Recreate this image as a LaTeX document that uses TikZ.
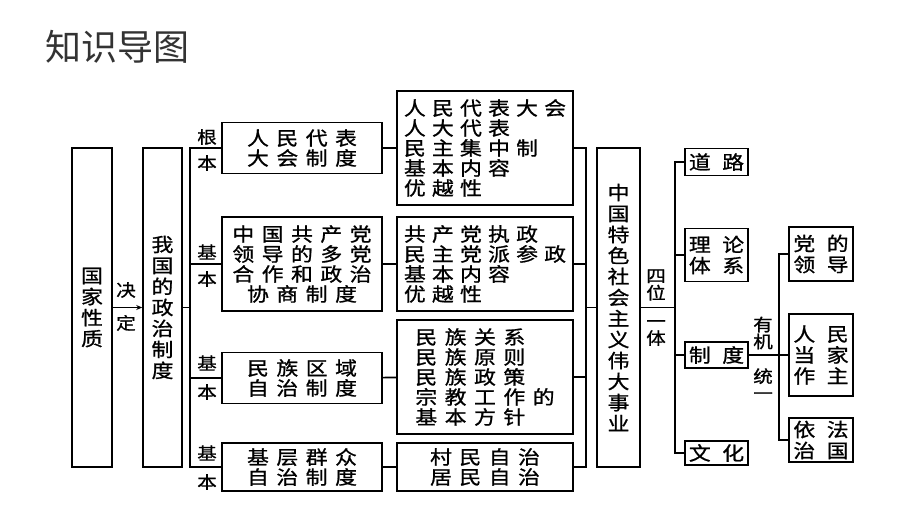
\documentclass[tikz,border=0pt]{standalone}
\usepackage{fontspec}
\usetikzlibrary{arrows.meta}
\newfontfamily\cjk[FakeStretch=1.15,FakeBold=1]{Noto Sans CJK SC}
\newfontfamily\cjktitle{Noto Sans CJK SC}
\definecolor{titlegray}{HTML}{333333}
\newlength\cjkgap
\newXeTeXintercharclass\hanclass
\count255="4E00
\loop
  \XeTeXcharclass\count255=\hanclass
  \ifnum\count255<"9FFF \advance\count255 by 1 \repeat
\XeTeXinterchartokenstate=1
\XeTeXinterchartoks\hanclass\hanclass={\hskip\cjkgap\relax}
\begin{document}
\begin{tikzpicture}[x=1pt,y=-1pt,line width=1.6pt,
    box/.style={draw,inner sep=0pt,align=center},
    hbox/.style={box,font=\cjk\fontsize{19}{20}\selectfont\setlength\cjkgap{7.5pt}},
    tbox/.style={box,align=left,font=\cjk\fontsize{19}{20}\selectfont\setlength\cjkgap{6.2pt}},
    sbox/.style={box,font=\cjk\fontsize{19}{21}\selectfont\setlength\cjkgap{11.5pt}},
    vbox/.style={box,font=\cjk\fontsize{19}{21}\selectfont},
    lab/.style={inner sep=0pt,align=center,font=\cjk\fontsize{17}{17}\selectfont}]
\useasboundingbox (0,0) rectangle (920,518);

\node[anchor=west,inner sep=0pt,text=titlegray,font=\cjktitle\fontsize{36}{40}\selectfont\setlength\cjkgap{0pt}] (title) at (45,47) {知识导图};

\node[vbox,minimum width=40,minimum height=319] (xingzhi) at (92,307.5) {国\\家\\性\\质};
\node[vbox,minimum width=39,minimum height=319] (zhengzhi) at (162.5,307.5) {我\\国\\的\\政\\治\\制\\度};
\node[lab] (jue) at (126,290) {决};
\node[lab] (ding) at (126,323) {定};
\draw[line width=1.2pt,-{Stealth[length=6pt,width=5pt]}] (xingzhi) -- (zhengzhi);

\begin{scope}[every node/.style={hbox,minimum width=160}]
    \node[minimum height=51] (rmdb) at (302,148) {人民代表\\大会制度};
    \node[minimum height=94] (dpz) at (302,264) {中国共产党\\领导的多党\\合作和政治\\协商制度};
    \node[minimum height=51] (mzqy) at (302,378) {民族区域\\自治制度};
    \node[minimum height=48] (jczz) at (302,467) {基层群众\\自治制度};
\end{scope}
\node[lab] (gen) at (207,137) {根};
\node[lab] (ben1) at (207,163) {本};
\node[lab] (ji2) at (207,252) {基};
\node[lab] (ben2) at (207,279) {本};
\node[lab] (ji3) at (207,363) {基};
\node[lab] (ben3) at (207,392) {本};
\node[lab] (ji4) at (207,453) {基};
\node[lab] (ben4) at (207,482) {本};

\coordinate (b1) at (190,307.5);
\draw (zhengzhi) -- (b1);
\draw (rmdb.west) -| (b1) |- (jczz.west);
\draw (b1) |- (dpz.west);
\draw (b1) |- (mzqy.west);

\begin{scope}[every node/.style={hbox,minimum width=176}]
    \node[tbox,minimum height=114] (rdnr) at (485,148) {人民代表大会\\人大代表\\民主集中制\\基本内容\\优越性};
    \node[tbox,minimum height=94] (gcd) at (485,264) {共产党执政\\民主党派参政\\基本内容\\优越性};
    \node[minimum height=114,align=left] (mzgx) at (485,377) {民族关系\\民族原则\\民族政策\\宗教工作的\\基本方针};
    \node[minimum height=48] (czzz) at (485,467) {村民自治\\居民自治};
\end{scope}
\draw (rmdb) -- (rdnr);
\draw (dpz) -- (gcd);
\draw (mzqy) -- (mzgx);
\draw (jczz) -- (czzz);

\node[vbox,minimum width=43,minimum height=319] (shiye) at (618.5,307.5) {中\\国\\特\\色\\社\\会\\主\\义\\伟\\大\\事\\业};
\coordinate (b2) at (586,307.5);
\draw (rdnr.east) -| (b2) |- (czzz.east);
\draw (b2) |- (gcd.east);
\draw (b2) |- (mzgx.east);
\draw (b2) -- (shiye);

\coordinate (b3) at (675,307.5);
\node[lab] (siwei) at (656,285) {四\\位};
\node[lab] (yiti) at (656,333) {一\\体};
\begin{scope}[every node/.style={sbox,minimum width=63}]
    \node[minimum height=27] (daolu) at (716.5,162) {道路};
    \node[minimum height=53] (lilun) at (716.5,255) {理论\\体系};
    \node[minimum height=26] (zhidu) at (716.5,355) {制度};
    \node[minimum height=24] (wenhua) at (716.5,453) {文化};
\end{scope}
\draw (shiye) -- (b3);
\draw (daolu.west) -| (b3) |- (wenhua.west);
\draw (b3) |- (lilun.west);
\draw (b3) |- (zhidu.west);

\coordinate (b4) at (779,355);
\node[lab] (youji) at (763,333) {有\\机};
\node[lab] (tongyi) at (763,384) {统\\一};
\begin{scope}[every node/.style={sbox,minimum width=64}]
    \node[minimum height=54] (dangde) at (821,254) {党的\\领导};
    \node[minimum height=82] (renmin) at (821,355) {人民\\当家\\作主};
    \node[minimum height=44] (yifa) at (821,440) {依法\\治国};
\end{scope}
\draw (zhidu) -- (renmin);
\draw (dangde.west) -| (b4) |- (yifa.west);
\end{tikzpicture}
\end{document}
